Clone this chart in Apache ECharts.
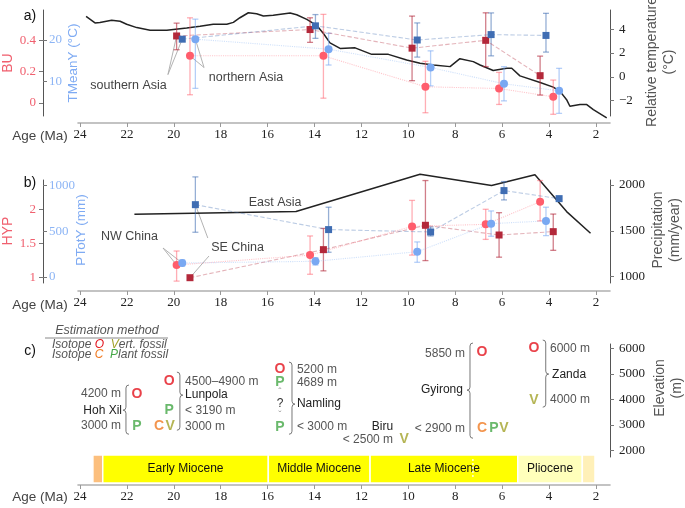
<!DOCTYPE html>
<html><head><meta charset="utf-8">
<script src="https://cdn.jsdelivr.net/npm/echarts@6/dist/echarts.min.js"></script>
<style>html,body{margin:0;padding:0;background:#fff}#c{width:685px;height:508px}</style>
</head><body><div id="c"></div>
<script>
// ---------- DATA ----------
const ageTicks = [24,22,20,18,16,14,12,10,8,6,4,2];

// Panel a: relative temperature curve (right axis)
const tempAge = [23.74,23.36,23.15,22.65,22.29,22.01,21.58,21.01,20.30,19.45,18.88,18.32,17.74,17.46,17.18,16.82,16.47,16.18,15.76,15.04,14.76,14.33,13.91,13.62,13.34,12.91,12.27,11.56,10.85,10.07,9.50,8.93,8.22,7.80,7.23,6.94,6.38,5.80,5.59,5.24,4.38,3.82,3.53,3.25,3.11,2.68,2.39,2.11,1.54];
const tempVal = [5.08,4.53,4.56,4.75,4.67,4.42,4.14,3.92,3.92,4.11,4.25,4.42,4.42,4.58,4.97,5.39,5.31,5.11,5.17,5.36,5.22,4.83,4.33,3.64,2.86,2.39,2.44,1.89,1.89,1.42,1.14,1.0,0.86,1.53,1.28,1.0,0.53,0.72,0.72,0.08,-0.47,-0.86,-1.22,-1.92,-2.47,-2.33,-2.33,-2.75,-3.44];

// Panel a: BU / TMeanY, southern Asia (squares) and northern Asia (circles)
const buSouthAge = [19.88,14.19,9.84,6.70,4.38];
const buSouth    = [0.428,0.469,0.350,0.400,0.174];
const buSouthLo  = [0.34,0.387,0.142,0.232,0.05];
const buSouthHi  = [0.51,0.544,0.555,0.576,0.299];
const tSouthAge  = [19.64,13.96,9.62,6.47,4.13];
const tSouth     = [20.2,23.4,20.0,21.3,21.1];
const tSouthLo   = [19.7,20.4,15.9,16.2,17.1];
const tSouthHi   = [20.8,26.1,24.1,26.5,26.4];
const buNorthAge = [19.31,13.62,9.27,6.13,3.82];
const buNorth    = [0.301,0.301,0.103,0.092,0.039];
const buNorthLo  = [0.052,0.03,-0.063,-0.01,-0.073];
const buNorthHi  = [0.544,0.566,0.266,0.195,0.146];
const tNorthAge  = [19.08,13.40,9.05,5.92,3.57];
const tNorth     = [20.2,17.8,13.4,9.5,7.8];
const tNorthLo   = [8.4,14.0,9.0,5.4,2.4];
const tNorthHi   = [25.0,21.6,17.4,13.6,13.2];

// Panel b: East Asia precipitation (right axis)
const precipAge = [21.68,14.79,9.50,6.45,4.60,3.25,2.23];
const precipVal = [1681,1710,2118,1994,2111,1710,1474];

// Panel b: HYP / PTotY, SE China (squares) and NW China (circles)
const hypSEAge = [19.31,13.62,9.27,6.13,3.82];
const hypSE    = [1.0,1.41,1.766,1.624,1.673];
const hypSELo  = [null,1.10,1.25,1.30,1.40];
const hypSEHi  = [null,1.72,2.42,1.95,1.93];
const pSEAge   = [19.08,13.40,9.05,5.92,3.57];
const pSE      = [792,519,493,946,858];
const pSELo    = [490,271,449,844,null];
const pSEHi    = [1096,764,548,1045,null];
const hypNWAge = [19.88,14.19,9.84,6.70,4.38];
const hypNW    = [1.186,1.33,1.75,1.78,2.11];
const hypNWLo  = [0.95,1.05,1.33,1.56,1.83];
const hypNWHi  = [1.39,1.61,2.13,2.0,2.42];
const pNWAge   = [19.64,13.96,9.62,6.47,4.13];
const pNW      = [153,172,277,584,614];
const pNWLo    = [120,131,161,446,453];
const pNWHi    = [186,212,384,723,764];

// Panel c: estimation method letters [age, elevation]
const letterO = [[21.57,4200],[20.20,4700],[15.47,5180],[6.86,5850],[4.64,6000]];
const letterP = [[21.57,2960],[20.20,3580],[15.47,4680],[15.47,2930],[6.35,2865]];
const letterC = [[20.63,2960],[6.86,2865]];
const letterV = [[20.16,2960],[10.18,2445],[5.92,2865],[4.64,3980]];

// Panel c: site text
const siteText = ['4200 m','Hoh Xil','3000 m','4500–4900 m','Lunpola','< 3190 m','3000 m','5200 m','4689 m','Namling','< 3000 m','Biru','< 2500 m','5850 m','Gyirong','< 2900 m','6000 m','Zanda','4000 m','?','ˆ','ˇ'];
const siteAge  = [22.25,22.21,22.25,19.52,19.52,19.52,19.52,14.75,14.75,14.75,14.75,10.65,10.65,7.58,7.67,7.58,3.96,3.87,3.96,15.47,15.47,15.47];
const siteElev = [4208,3581,2966,4691,4169,3581,2954,5177,4667,3817,2927,2927,2444,5804,4365,2864,6000,4981,3973,3817,4250,3360];
// braces: [age, top elev, bottom elev, tip elev, direction (1 = '}', -1 = '{')]
const braces = [[22.04,4565,2640,3581,-1],[19.74,5071,2797,4169,1],[14.96,5463,2640,3817,1],[7.37,6208,2484,4365,-1],[4.14,6325,3699,4993,1]];

// Timescale
const epochName  = ['', 'Early Miocene','Middle Miocene','Late Miocene','Pliocene',''];
const epochStart = [23.45,23.03,15.97,11.63,5.333,2.58];
const epochEnd   = [23.03,15.97,11.63,5.333,2.58,2.04];
const stageBoundary = [7.246];

// ---------- STYLE / LAYOUT ----------
const epochColor = ['#fcbf7d','#ffff00','#ffff00','#ffff00','#ffffbb','#fff0b8'];
const serif = 'Liberation Serif', sans = 'Liberation Sans';
const C = {
  darkRed:'#b3283a', lightRed:'#ff5d6c', darkBlue:'#3f6db3', lightBlue:'#79a8f2',
  darkRedE:'rgba(179,40,58,0.6)', lightRedE:'rgba(255,93,108,0.5)',
  darkBlueE:'rgba(63,109,179,0.55)', lightBlueE:'rgba(121,168,242,0.55)'
};
const siteAlign = ['right','right','right','left','left','left','left','left','left','left','left','right','right','right','right','right','left','left','left','center','center','center'];
const siteColor = ['#555','#222','#555','#555','#222','#555','#555','#555','#555','#222','#555','#222','#555','#555','#222','#555','#555','#222','#555','#333','#999','#999'];

const XMIN = 1.4, XMAX = 24.085;
function xAx(gi, offset, show){
  return {type:'value', gridIndex:gi, inverse:true, min:XMIN, max:XMAX, offset, show,
    axisLine:{show:true, onZero:false, lineStyle:{color:'#b0b0b0', width:1.6}},
    axisTick:{show:true, customValues:ageTicks, length:4, lineStyle:{color:'#999'}},
    axisLabel:{customValues:ageTicks, fontFamily:serif, fontSize:13, color:'#222', margin:5},
    splitLine:{show:false}};
}
function yAx(gi, pos, offset, min, max, ticks, color, inside, showLine, fmt){
  return {type:'value', gridIndex:gi, position:pos, offset, min, max,
    axisLine:{show:showLine, onZero:false, lineStyle:{color:'#555', width:1}},
    axisTick:{show:true, inside, customValues:ticks, length:4, lineStyle:{color:'#777'}},
    axisLabel:{customValues:ticks, inside, fontFamily:serif, fontSize:13, color, margin: inside?6:(pos==='right'?9:7),
      formatter: fmt || (v=>String(v))},
    splitLine:{show:false}};
}
const minus = v => v<0 ? '\u2212'+Math.abs(v) : String(v);

function errSeries(ages, lo, hi, xi, yi, color){
  return {type:'custom', xAxisIndex:xi, yAxisIndex:yi, clip:false, z:2, silent:true,
    data: ages.map((a,i)=>[a, lo[i], hi[i]]).filter(d=>d[1]!=null),
    renderItem:(p, api)=>{
      const a = api.value(0);
      const p1 = api.coord([a, api.value(1)]), p2 = api.coord([a, api.value(2)]);
      const st = {stroke:color, lineWidth:1.3};
      return {type:'group', children:[
        {type:'line', shape:{x1:p1[0],y1:p1[1],x2:p2[0],y2:p2[1]}, style:st},
        {type:'line', shape:{x1:p1[0]-3,y1:p1[1],x2:p1[0]+3,y2:p1[1]}, style:st},
        {type:'line', shape:{x1:p2[0]-3,y1:p2[1],x2:p2[0]+3,y2:p2[1]}, style:st}]};
    }};
}
function ptSeries(ages, vals, xi, yi, color, sym, dash){
  return {type:'line', xAxisIndex:xi, yAxisIndex:yi, data: ages.map((a,i)=>[a, vals[i]]),
    symbol:sym, symbolSize: sym==='rect'?7:8, showSymbol:true, clip:false, z:3, silent:true,
    itemStyle:{color, opacity:1}, lineStyle:{color, type:dash, width:1.1, opacity:0.35}};
}
function letterSeries(data, letter, color){
  return {type:'scatter', xAxisIndex:2, yAxisIndex:6, data, symbolSize:1, clip:false, silent:true,
    itemStyle:{color:'transparent'},
    label:{show:true, position:'inside', formatter:letter, color, fontFamily:sans, fontWeight:'bold', fontSize:14}};
}

const grids = [
  {left:78, right:75, top:10, height:106},
  {left:78, right:75, top:180, height:103},
  {left:78, right:75, top:344, height:113},
  {left:78, right:75, top:455, height:28}
];

const option = {
  animation:false,
  grid: grids,
  xAxis:[xAx(0,7,true), xAx(1,8,true), xAx(2,0,false), xAx(3,2,true)],
  yAxis:[
    yAx(0,'left',35,-0.0839,0.594,[0,0.2,0.4],'#f0606f',false,true, v=>v===0?'0':v.toFixed(1)),
    yAx(0,'left',35,1.77,27.2,[10,20],'#8db5f5',true,false),
    yAx(0,'right',0,-3.29,5.62,[-2,0,2,4],'#222',false,true, minus),
    yAx(1,'left',35,0.9225,2.428,[1,1.5,2],'#f0606f',false,true),
    yAx(1,'left',35,-65.7,1062,[0,500,1000],'#8db5f5',true,false),
    yAx(1,'right',0,931,2054.5,[1000,1500,2000],'#222',false,true),
    yAx(2,'right',0,1750,6170,[2000,3000,4000,5000,6000],'#222',false,true),
    {type:'value', gridIndex:3, min:0, max:1, show:false}
  ],
  series:[
    {type:'line', xAxisIndex:0, yAxisIndex:2, data:tempAge.map((a,i)=>[a,tempVal[i]]), symbol:'none', clip:false,
      lineStyle:{color:'#222', width:1.5}, z:1, silent:true},
    errSeries(buSouthAge, buSouthLo, buSouthHi, 0, 0, C.darkRedE),
    errSeries(tSouthAge, tSouthLo, tSouthHi, 0, 1, C.darkBlueE),
    errSeries(buNorthAge, buNorthLo, buNorthHi, 0, 0, C.lightRedE),
    errSeries(tNorthAge, tNorthLo, tNorthHi, 0, 1, C.lightBlueE),
    ptSeries(buSouthAge, buSouth, 0, 0, C.darkRed, 'rect', 'dashed'),
    ptSeries(tSouthAge, tSouth, 0, 1, C.darkBlue, 'rect', 'dashed'),
    ptSeries(buNorthAge, buNorth, 0, 0, C.lightRed, 'circle', 'dotted'),
    ptSeries(tNorthAge, tNorth, 0, 1, C.lightBlue, 'circle', 'dotted'),

    {type:'line', xAxisIndex:1, yAxisIndex:5, data:precipAge.map((a,i)=>[a,precipVal[i]]), symbol:'none', clip:false,
      lineStyle:{color:'#222', width:1.5}, z:1, silent:true},
    errSeries(hypSEAge, hypSELo, hypSEHi, 1, 3, C.darkRedE),
    errSeries(pSEAge, pSELo, pSEHi, 1, 4, C.darkBlueE),
    errSeries(hypNWAge, hypNWLo, hypNWHi, 1, 3, C.lightRedE),
    errSeries(pNWAge, pNWLo, pNWHi, 1, 4, C.lightBlueE),
    ptSeries(hypSEAge, hypSE, 1, 3, C.darkRed, 'rect', 'dashed'),
    ptSeries(pSEAge, pSE, 1, 4, C.darkBlue, 'rect', 'dashed'),
    ptSeries(hypNWAge, hypNW, 1, 3, C.lightRed, 'circle', 'dotted'),
    ptSeries(pNWAge, pNW, 1, 4, C.lightBlue, 'circle', 'dotted'),

    letterSeries(letterO, 'O', '#e3121b'),
    letterSeries(letterP, 'P', '#45a847'),
    letterSeries(letterC, 'C', '#f07a22'),
    letterSeries(letterV, 'V', '#a3a32b'),
    {type:'custom', xAxisIndex:2, yAxisIndex:6, clip:false, silent:true, data:braces,
      renderItem:(p, api)=>{
        const a = api.value(0);
        const t = api.coord([a, api.value(1)]), b = api.coord([a, api.value(2)]), m = api.coord([a, api.value(3)]);
        const x = t[0], yT = t[1], yB = b[1], yM = m[1], h = 3*api.value(4);
        const d = `M${x-h} ${yT} Q${x} ${yT} ${x} ${yT+3} L${x} ${yM-3} Q${x} ${yM} ${x+h} ${yM} Q${x} ${yM} ${x} ${yM+3} L${x} ${yB-3} Q${x} ${yB} ${x-h} ${yB}`;
        return {type:'path', shape:{pathData:d}, style:{stroke:'#777', fill:'none', lineWidth:1}};
      }},

    {type:'custom', xAxisIndex:3, yAxisIndex:7, clip:false, silent:true,
      data: epochStart.map((s,i)=>[s, epochEnd[i], i]),
      renderItem:(p, api)=>{
        const i = api.value(2);
        const p1 = api.coord([api.value(0), 1]), p2 = api.coord([api.value(1), 0]);
        const ch = [{type:'rect', shape:{x:p1[0], y:p1[1], width:p2[0]-p1[0], height:p2[1]-p1[1]},
          style:{fill:epochColor[i], stroke:'#fff', lineWidth:1.5}}];
        if (epochName[i]) ch.push({type:'text', x:(p1[0]+p2[0])/2, y:(p1[1]+p2[1])/2,
          style:{text:epochName[i], align:'center', verticalAlign:'middle', textAlign:'center', textVerticalAlign:'middle',
            fontSize:12, fontFamily:sans, fill:'#111'}});
        return {type:'group', children:ch};
      }},
    {type:'custom', xAxisIndex:3, yAxisIndex:7, clip:false, silent:true, data: stageBoundary.map(v=>[v]),
      renderItem:(p, api)=>{
        const a = api.coord([api.value(0), 1]), b = api.coord([api.value(0), 0]);
        return {type:'line', shape:{x1:a[0],y1:a[1]+4,x2:b[0],y2:b[1]-4}, style:{stroke:'#fff', lineWidth:1.3, lineDash:[2,2]}};
      }}
  ]
};

const chart = echarts.init(document.getElementById('c'));
chart.setOption(option);

// ---------- annotations via axis scales ----------
const X = (xi, v) => chart.convertToPixel({xAxisIndex:xi}, v);
const Y = (yi, v) => chart.convertToPixel({yAxisIndex:yi}, v);
const g = [];
function txt(x, y, text, o){
  o = o || {};
  g.push({type:'text', x, y, rotation:o.rot||0, silent:true, z:10,
    style:{text, fill:o.color||'#444', fontSize:o.size||12, fontFamily:o.font||sans, fontStyle:o.italic?'italic':'normal',
      fontWeight:o.bold?'bold':'normal', lineHeight:o.lh||16,
      align:o.align||'center', verticalAlign:'middle', textAlign:o.align||'center', textVerticalAlign:'middle'}});
}
function leader(x1,y1,x2,y2){
  g.push({type:'line', silent:true, z:0, shape:{x1,y1,x2,y2}, style:{stroke:'#aaa', lineWidth:0.9}});
}
// panel labels
txt(30, 16, 'a)', {color:'#111', size:14});
txt(30, 183, 'b)', {color:'#111', size:14});
txt(30, 351, 'c)', {color:'#111', size:14});
// Age labels
[136, 305, 497].forEach(y => txt(40, y, 'Age (Ma)', {size:13.5, color:'#444'}));
// axis titles
const R = -Math.PI/2 * -1;
txt(8, 63, 'BU', {rot:Math.PI/2, color:'#f0606f', size:14});
txt(73, 63, 'TMeanY (°C)', {rot:Math.PI/2, color:'#7fabf3', size:13.5});
txt(661, 62, 'Relative temperature\n(°C)', {rot:Math.PI/2, color:'#555', size:14, lh:17});
txt(8, 231, 'HYP', {rot:Math.PI/2, color:'#f0606f', size:14});
txt(81, 230, 'PTotY (mm)', {rot:Math.PI/2, color:'#7fabf3', size:13.5});
txt(667, 230, 'Precipitation\n(mm/year)', {rot:Math.PI/2, color:'#555', size:14, lh:17});
txt(669, 388, 'Elevation\n(m)', {rot:Math.PI/2, color:'#555', size:14, lh:17});

// panel a annotations
txt(X(0,21.93), Y(0,0.11), 'southern Asia', {size:12.5, color:'#444'});
leader(X(0,20.25), Y(0,0.181), X(0,buSouthAge[0]), Y(0,buSouth[0]));
leader(X(0,20.25), Y(0,0.181), X(0,tSouthAge[0]), Y(1,tSouth[0]));
txt(X(0,16.92), Y(0,0.161), 'northern Asia', {size:12.5, color:'#444'});
leader(X(0,18.71), Y(0,0.226), X(0,buNorthAge[0]), Y(0,buNorth[0]));
leader(X(0,18.71), Y(0,0.226), X(0,tNorthAge[0]), Y(1,tNorth[0]));
// panel b annotations
txt(X(1,15.68), Y(3,2.096), 'East Asia', {size:12.5, color:'#444'});
txt(X(1,21.89), Y(3,1.60), 'NW China', {size:12.5, color:'#444'});
leader(X(1,20.46), Y(3,1.434), X(1,hypNWAge[0]), Y(3,hypNW[0]));
leader(X(1,20.46), Y(3,1.434), X(1,pNWAge[0]), Y(4,pNW[0]));
txt(X(1,17.28), Y(3,1.434), 'SE China', {size:12.5, color:'#444'});
leader(X(1,18.55), Y(3,1.58), X(1,pSEAge[0]), Y(4,pSE[0]));
leader(X(1,18.50), Y(3,1.317), X(1,hypSEAge[0]), Y(3,hypSE[0]));

// panel c site text
siteText.forEach((t,i)=>{
  const sz = (t==='ˆ'||t==='ˇ') ? 10 : 12;
  txt(X(2,siteAge[i]), Y(6,siteElev[i]), t, {align:siteAlign[i], color:siteColor[i], size:sz});
});

// legend "Estimation method"
txt(107, 331, 'Estimation method', {italic:true, color:'#555', size:12.5});
g.push({type:'line', silent:true, shape:{x1:45,y1:338,x2:168,y2:338}, style:{stroke:'#888', lineWidth:1}});
const rich = {g:{fill:'#555', fontStyle:'italic', fontSize:12, fontFamily:sans},
  o:{fill:'#e3121b', fontStyle:'italic', fontSize:12, fontFamily:sans},
  c:{fill:'#f07a22', fontStyle:'italic', fontSize:12, fontFamily:sans},
  v:{fill:'#a3a32b', fontStyle:'italic', fontSize:12, fontFamily:sans},
  p:{fill:'#45a847', fontStyle:'italic', fontSize:12, fontFamily:sans}};
g.push({type:'text', x:52, y:345, silent:true, style:{text:'{g|Isotope }{o|O}{g|  }{v|V}{g|ert. fossil}', rich, align:'left', verticalAlign:'middle', textAlign:'left', textVerticalAlign:'middle'}});
g.push({type:'text', x:52, y:355, silent:true, style:{text:'{g|Isotope }{c|C}{g|  }{p|P}{g|lant fossil}', rich, align:'left', verticalAlign:'middle', textAlign:'left', textVerticalAlign:'middle'}});

chart.setOption({graphic:g});
</script></body></html>
